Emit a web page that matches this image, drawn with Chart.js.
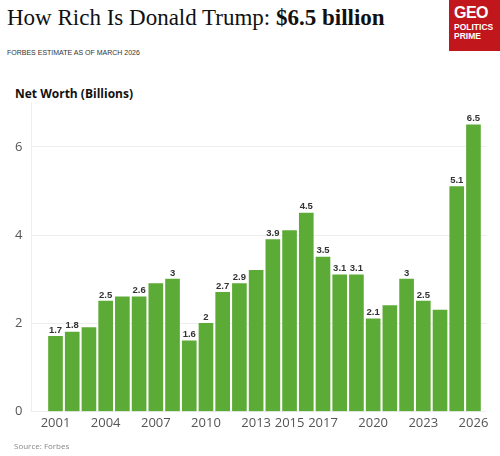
<!DOCTYPE html>
<html>
<head>
<meta charset="utf-8">
<script src="https://cdn.jsdelivr.net/npm/chart.js@4.4.1/dist/chart.umd.min.js"></script>
<style>
  html, body { margin: 0; padding: 0; background: #fff; }
  body { width: 500px; height: 456px; position: relative; overflow: hidden; }
  #title { position: absolute; left: 7px; top: 5px; font-family: "Liberation Serif", serif; font-size: 23px; color: #111; white-space: nowrap; }
  #title b { font-weight: bold; }
  #subtitle { position: absolute; left: 7px; top: 49px; font-family: "Liberation Sans", sans-serif; font-size: 7px; color: #333; }
  #ylabel { position: absolute; left: 15px; top: 85px; font-family: "Open Sans", sans-serif; font-weight: bold; font-size: 12px; color: #111; }
  #logo { position: absolute; left: 449px; top: 0; width: 51px; height: 51px; background: #c1161c; color: #fff; font-family: "Liberation Sans", sans-serif; font-weight: bold; }
  #logo .big { position: absolute; left: 5px; top: 4px; font-size: 16px; letter-spacing: -0.5px; }
  #logo .small { position: absolute; left: 5px; font-size: 8.5px; line-height: 9px; }
  #source { position: absolute; left: 14px; top: 440px; font-family: "Open Sans", sans-serif; font-size: 8px; color: #888; }
  #wrap { position: absolute; left: 0; top: 86px; width: 500px; height: 355px; }
</style>
</head>
<body>
<div id="title">How Rich Is Donald Trump: <b>$6.5 billion</b></div>
<div id="subtitle">FORBES ESTIMATE AS OF MARCH 2026</div>
<div id="ylabel">Net Worth (Billions)</div>
<div id="logo">
  <div class="big">GEO</div>
  <div class="small" style="top:23px">POLITICS</div>
  <div class="small" style="top:32px">PRIME</div>
</div>
<div id="wrap"><canvas id="chart" width="500" height="355"></canvas></div>
<div id="source">Source: Forbes</div>

<script>
// years on the x axis
const years = [2001, 2002, 2003, 2004, 2005, 2006, 2007, 2008, 2009, 2010, 2011, 2012, 2013,
               2014, 2015, 2016, 2017, 2018, 2019, 2020, 2021, 2022, 2023, 2024, 2025, 2026];
// net worth in billions
const netWorth = [1.7, 1.8, 1.9, 2.5, 2.6, 2.6, 2.9, 3.0, 1.6, 2.0, 2.7, 2.9, 3.2,
                  3.9, 4.1, 4.5, 3.5, 3.1, 3.1, 2.1, 2.4, 3.0, 2.5, 2.3, 5.1, 6.5];
// value labels shown above bars (null = no label)
const barLabels = ["1.7", "1.8", null, "2.5", null, "2.6", null, "3", "1.6", "2", "2.7", "2.9", null,
                   "3.9", null, "4.5", "3.5", "3.1", "3.1", "2.1", null, "3", "2.5", null, "5.1", "6.5"];
// tick labels
const xTickYears = [2001, 2004, 2007, 2010, 2013, 2015, 2017, 2020, 2023, 2026];
const yTicks = [0, 2, 4, 6];

const valueLabels = {
    id: "valueLabels",
    afterDatasetsDraw(chart) {
        const ctx = chart.ctx;
        const meta = chart.getDatasetMeta(0);
        ctx.save();
        ctx.font = "bold 9.5px 'Liberation Sans', sans-serif";
        ctx.fillStyle = "#333";
        ctx.textAlign = "center";
        ctx.textBaseline = "bottom";
        meta.data.forEach((bar, i) => {
            if (barLabels[i]) ctx.fillText(barLabels[i], bar.x, bar.y - 1.5);
        });
        ctx.restore();
    }
};

new Chart(document.getElementById("chart"), {
    type: "bar",
    data: {
        datasets: [{
            data: years.map((y, i) => ({ x: y, y: netWorth[i] })),
            backgroundColor: "#5dab37",
            barThickness: 14,
            borderWidth: 0
        }]
    },
    options: {
        responsive: false,
        animation: false,
        layout: { padding: { left: 6, right: 14, top: 5, bottom: 6 } },
        plugins: { legend: { display: false }, tooltip: { enabled: false } },
        scales: {
            x: {
                type: "linear",
                offset: false,
                min: 1999.56,
                max: 2026.75,
                afterBuildTicks: axis => { axis.ticks = xTickYears.map(v => ({ value: v })); },
                ticks: {
                    callback: v => String(v),
                    color: "#555",
                    padding: 4,
                    maxRotation: 0,
                    autoSkip: false,
                    font: { family: "Open Sans", size: 13 }
                },
                grid: { display: false, drawTicks: false, offset: false },
                border: { display: false }
            },
            y: {
                min: 0,
                max: 7,
                afterBuildTicks: axis => { axis.ticks = yTicks.map(v => ({ value: v })); },
                ticks: {
                    color: "#555",
                    padding: 9,
                    font: { family: "Open Sans", size: 13 }
                },
                grid: { color: "#eeeeee", drawTicks: false },
                border: { display: true, color: "#eeeeee" }
            }
        }
    },
    plugins: [valueLabels]
});
</script>
</body>
</html>
